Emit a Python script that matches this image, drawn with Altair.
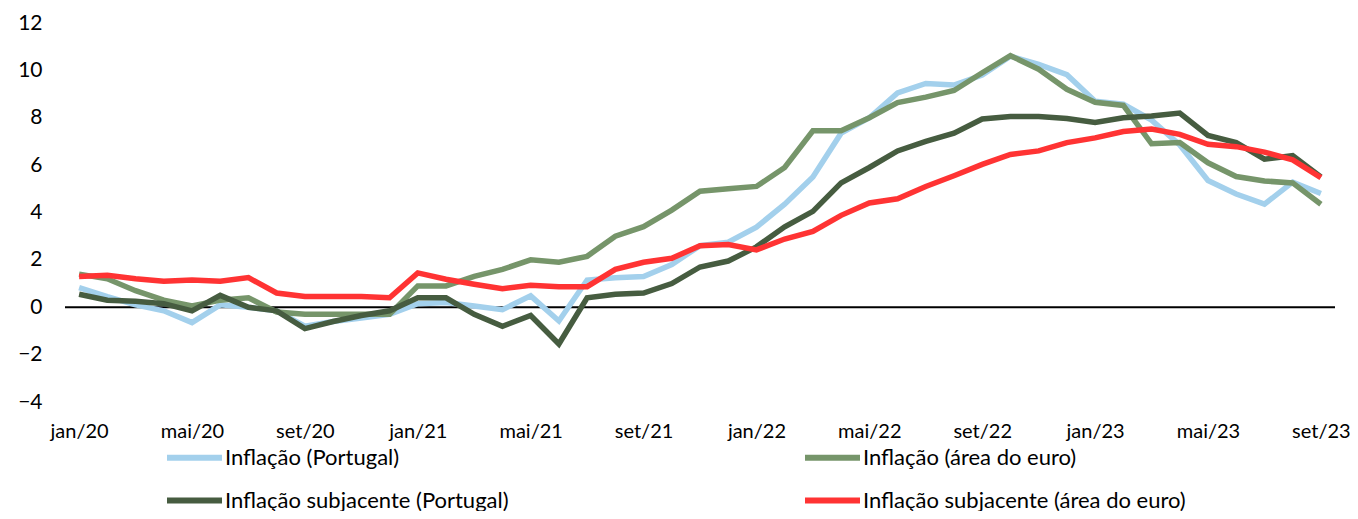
import altair as alt
import pandas as pd

months_pt = ["jan", "fev", "mar", "abr", "mai", "jun", "jul", "ago", "set", "out", "nov", "dez"]
categories = [f"{m}/{y}" for y in ["20", "21", "22", "23"] for m in months_pt][:45]

inflacao_pt = [0.83, 0.45, 0.1, -0.15, -0.65, 0.1, 0.0, -0.15, -0.8, -0.6, -0.45, -0.3,
               0.15, 0.2, 0.05, -0.1, 0.48, -0.58, 1.15, 1.25, 1.3, 1.8, 2.6, 2.75,
               3.38, 4.35, 5.5, 7.35, 8.0, 9.05, 9.45, 9.38, 9.8, 10.6, 10.25, 9.82,
               8.7, 8.57, 7.9, 6.85, 5.35, 4.78, 4.35, 5.28, 4.8]
inflacao_ea = [1.4, 1.2, 0.7, 0.3, 0.05, 0.3, 0.4, -0.2, -0.3, -0.3, -0.3, -0.3,
               0.9, 0.9, 1.3, 1.6, 2.0, 1.9, 2.15, 3.0, 3.4, 4.1, 4.9, 5.0,
               5.1, 5.9, 7.45, 7.45, 8.0, 8.64, 8.87, 9.15, 9.9, 10.62, 10.05, 9.2,
               8.65, 8.52, 6.9, 6.95, 6.1, 5.52, 5.33, 5.25, 4.35]
subjacente_pt = [0.55, 0.3, 0.25, 0.15, -0.15, 0.5, 0.0, -0.15, -0.9, -0.6, -0.35, -0.15,
                 0.4, 0.4, -0.3, -0.8, -0.35, -1.55, 0.4, 0.55, 0.6, 1.0, 1.7, 1.95,
                 2.55, 3.4, 4.05, 5.25, 5.9, 6.6, 7.0, 7.35, 7.95, 8.05, 8.05, 7.97,
                 7.8, 8.0, 8.07, 8.2, 7.25, 6.95, 6.25, 6.4, 5.5]
subjacente_ea = [1.3, 1.35, 1.2, 1.1, 1.15, 1.1, 1.25, 0.6, 0.45, 0.45, 0.45, 0.4,
                 1.45, 1.18, 0.97, 0.78, 0.93, 0.87, 0.87, 1.6, 1.9, 2.07, 2.6, 2.65,
                 2.42, 2.88, 3.2, 3.88, 4.4, 4.58, 5.1, 5.55, 6.03, 6.45, 6.6, 6.95,
                 7.15, 7.42, 7.52, 7.3, 6.88, 6.78, 6.55, 6.22, 5.47]

series_names = ["Inflação (Portugal)", "Inflação (área do euro)",
                "Inflação subjacente (Portugal)", "Inflação subjacente (área do euro)"]
series_colors = ["#a3d0ec", "#76956a", "#465c40", "#ff3333"]
series_values = [inflacao_pt, inflacao_ea, subjacente_pt, subjacente_ea]
tick_labels = categories[::4]

rows = []
for k, (name, vals) in enumerate(zip(series_names, series_values)):
    for c, v in zip(categories, vals):
        rows.append({"mes": c, "serie": name, "valor": v, "ordem": k})
df = pd.DataFrame(rows)

FONT = "Lato"

x_enc = alt.X("mes:N", sort=categories,
              scale=alt.Scale(type="point", padding=0.5),
              axis=alt.Axis(values=tick_labels, title=None, labelAngle=0, domain=False,
                            ticks=False, labelPadding=19, labelFontSize=20,
                            labelFont=FONT, labelColor="#000000"))
y_enc = alt.Y("valor:Q", scale=alt.Scale(domain=[-4, 12], nice=False),
              axis=alt.Axis(values=[-4, -2, 0, 2, 4, 6, 8, 10, 12], title=None,
                            domain=False, ticks=False, grid=False, labelPadding=23,
                            labelFontSize=21, labelFont=FONT, labelColor="#000000"))

lines = alt.Chart(df).mark_line(strokeWidth=5.5, strokeCap="butt", strokeJoin="miter").encode(
    x=x_enc,
    y=y_enc,
    color=alt.Color("serie:N", sort=series_names,
                    scale=alt.Scale(domain=series_names, range=series_colors),
                    legend=alt.Legend(title=None, orient="none", legendX=99, legendY=404,
                                      columns=2, direction="horizontal",
                                      symbolType="stroke", symbolSize=3025,
                                      symbolStrokeWidth=6, labelFontSize=22,
                                      labelFont=FONT, labelColor="#000000",
                                      labelOffset=0, columnPadding=284, rowPadding=0,
                                      labelLimit=500)),
    order=alt.Order("ordem:Q"),
)

zero = alt.Chart(pd.DataFrame({"y": [0]})).mark_rule(color="#000000", strokeWidth=1.8).encode(
    y=alt.Y("y:Q")
)

chart = alt.layer(zero, lines).properties(
    width=1270, height=379,
    background="#ffffff",
    autosize=alt.AutoSizeParams(type="none"),
    padding={"left": 57, "top": 15, "right": 15, "bottom": 109},
).configure_view(strokeWidth=0)

chart.save("out.html", embed_options={"renderer": "svg", "actions": False})
